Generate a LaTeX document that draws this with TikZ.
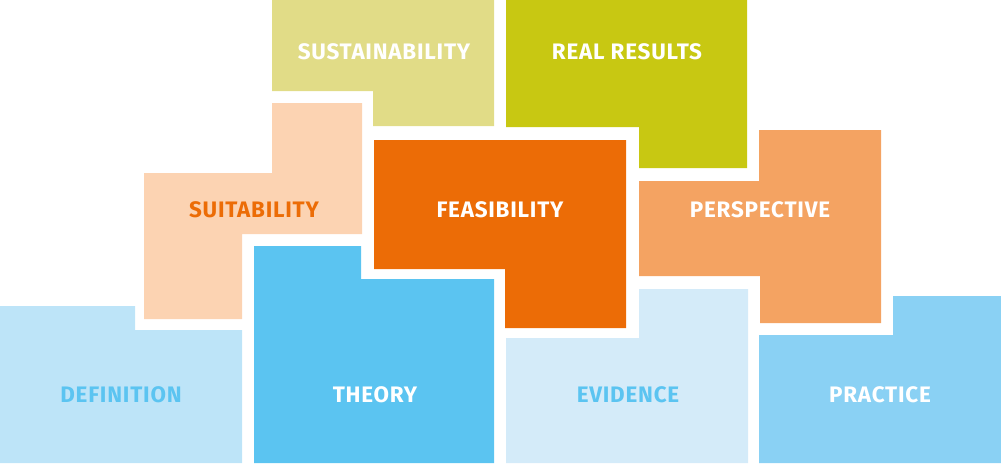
\documentclass[tikz,border=0pt]{standalone}
\usepackage{fontspec}
\setmainfont{Fira Sans}
\usepackage{tikz}
\definecolor{sustcol}{HTML}{E1DC87}
\definecolor{realcol}{HTML}{C8C812}
\definecolor{suitcol}{HTML}{FCD3B2}
\definecolor{feascol}{HTML}{EC6C06}
\definecolor{perscol}{HTML}{F4A362}
\definecolor{defcol}{HTML}{BDE4F8}
\definecolor{theocol}{HTML}{5BC4F1}
\definecolor{evidcol}{HTML}{D4EBF9}
\definecolor{praccol}{HTML}{8AD1F4}
\tikzset{label/.style={font=\fontsize{11.2}{13}\selectfont\bfseries\addfontfeature{LetterSpace=3.5}, text=white, inner sep=0pt}}

\begin{document}
\begin{tikzpicture}[x=0.5pt,y=-0.5pt]
            \useasboundingbox (0,0) rectangle (1001,463);
            % top row
            \fill[sustcol] (272,0) -- (494,0) -- (494,126) -- (373,126) -- (373,91) -- (272,91) -- cycle;
            \fill[realcol] (506,0) -- (747,0) -- (747,168) -- (639,168) -- (639,127) -- (506,127) -- cycle;
            % middle row
            \fill[suitcol] (144,173) -- (272,173) -- (272,103) -- (362,103) -- (362,234) -- (242,234) -- (242,319) -- (144,319) -- cycle;
            \fill[feascol] (374,140) -- (626,140) -- (626,328) -- (505,328) -- (505,269) -- (374,269) -- cycle;
            \fill[perscol] (639,181) -- (759,181) -- (759,130) -- (881,130) -- (881,323) -- (760,323) -- (760,276) -- (639,276) -- cycle;
            % bottom row
            \fill[defcol] (0,306) -- (135,306) -- (135,330) -- (242,330) -- (242,463) -- (0,463) -- cycle;
            \fill[theocol] (254,246) -- (361,246) -- (361,279) -- (494,279) -- (494,463) -- (254,463) -- cycle;
            \fill[evidcol] (506,338) -- (639,338) -- (639,289) -- (748,289) -- (748,463) -- (506,463) -- cycle;
            \fill[praccol] (759,335) -- (893,335) -- (893,296) -- (1001,296) -- (1001,463) -- (759,463) -- cycle;
            % labels
            \node[label] (sust) at (384,52) {SUSTAINABILITY};
            \node[label] (real) at (627,52) {REAL RESULTS};
            \node[label, text=feascol] (suit) at (254,210) {SUITABILITY};
            \node[label] (feas) at (500,210) {FEASIBILITY};
            \node[label] (pers) at (760,210) {PERSPECTIVE};
            \node[label, text=theocol] (def) at (121,395) {DEFINITION};
            \node[label] (theo) at (375,395) {THEORY};
            \node[label, text=theocol] (evid) at (628,395) {EVIDENCE};
            \node[label] (prac) at (880,395) {PRACTICE};
        \end{tikzpicture}
\end{document}
